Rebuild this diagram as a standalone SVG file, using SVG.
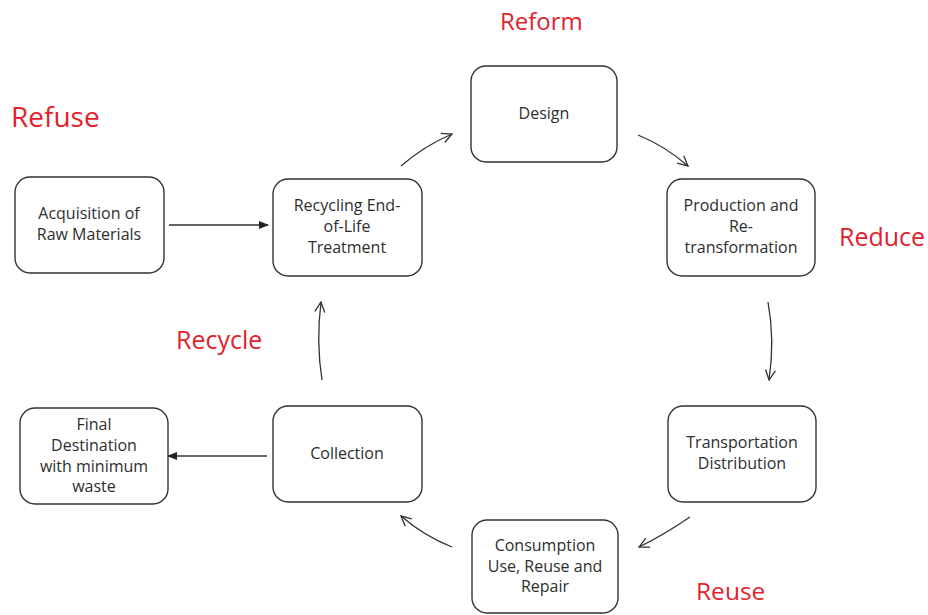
<svg xmlns="http://www.w3.org/2000/svg" width="928" height="615" viewBox="0 0 928 615">
<defs>
<style>
.box{fill:#fff;stroke:#333;stroke-width:1.4}
.t{font-family:"Open Sans","Liberation Sans",sans-serif;font-size:16px;fill:#2e2e2e;text-anchor:middle}
.r{font-family:"Open Sans","Liberation Sans",sans-serif;fill:#e3222c}
.c{fill:none;stroke:#333;stroke-width:1.3}
</style>
<marker id="open" viewBox="0 0 12 12" refX="11" refY="6" markerWidth="12" markerHeight="12" markerUnits="userSpaceOnUse" orient="auto">
<path d="M1,1 L11,6 L1,11" fill="none" stroke="#333" stroke-width="1.3"/>
</marker>
<marker id="fill" viewBox="0 0 10 10" refX="9" refY="5" markerWidth="10" markerHeight="10" markerUnits="userSpaceOnUse" orient="auto">
<path d="M0,1 L10,5 L0,9 Z" fill="#222"/>
</marker>
</defs>
<rect width="928" height="615" fill="#fff"/>

<g id="connectors">
<line class="c" x1="169" y1="225" x2="268" y2="225" marker-end="url(#fill)"/>
<line class="c" x1="267" y1="456" x2="168" y2="456" marker-end="url(#fill)"/>
<path class="c" d="M322,380 Q316,342 321,302" marker-end="url(#open)"/>
<path class="c" d="M401,166 Q424,146 452,134" marker-end="url(#open)"/>
<path class="c" d="M638,135 Q665,146 688,166" marker-end="url(#open)"/>
<path class="c" d="M768,302 Q775,340 769,380" marker-end="url(#open)"/>
<path class="c" d="M690,517 Q662,536 639,547" marker-end="url(#open)"/>
<path class="c" d="M452,547 Q424,536 401,516" marker-end="url(#open)"/>
</g>

<g id="design"><rect class="box" x="471" y="66" width="146" height="96" rx="15"/><text class="t" x="544" y="119">Design</text></g>
<g id="production"><rect class="box" x="667" y="179" width="148" height="97" rx="15"/><text class="t" x="741" y="211">Production  and</text><text class="t" x="741" y="232">Re-</text><text class="t" x="741" y="253">transformation</text></g>
<g id="transportation"><rect class="box" x="668" y="406" width="148" height="96" rx="15"/><text class="t" x="742" y="448">Transportation</text><text class="t" x="742" y="469">Distribution</text></g>
<g id="consumption"><rect class="box" x="472" y="520" width="146" height="93" rx="15"/><text class="t" x="545" y="551">Consumption</text><text class="t" x="545" y="572">Use, Reuse and</text><text class="t" x="545" y="592">Repair</text></g>
<g id="collection"><rect class="box" x="273" y="406" width="149" height="96" rx="15"/><text class="t" x="347" y="459">Collection</text></g>
<g id="recycling"><rect class="box" x="273" y="179" width="149" height="97" rx="15"/><text class="t" x="347" y="211">Recycling End-</text><text class="t" x="347" y="232">of-Life</text><text class="t" x="347" y="253">Treatment</text></g>
<g id="acquisition"><rect class="box" x="15" y="177" width="149" height="96" rx="15"/><text class="t" x="89" y="219">Acquisition of</text><text class="t" x="89" y="240">Raw Materials</text></g>
<g id="final"><rect class="box" x="20" y="408" width="148" height="96" rx="15"/><text class="t" x="94" y="430">Final</text><text class="t" x="94" y="451">Destination</text><text class="t" x="94" y="472">with minimum</text><text class="t" x="94" y="492">waste</text></g>

<g id="labels">
<text class="r" x="500" y="30" font-size="24">Reform</text>
<text class="r" x="11" y="127" font-size="28">Refuse</text>
<text class="r" x="839" y="246" font-size="25">Reduce</text>
<text class="r" x="176" y="349" font-size="25">Recycle</text>
<text class="r" x="696" y="600" font-size="24.5">Reuse</text>
</g>
</svg>
